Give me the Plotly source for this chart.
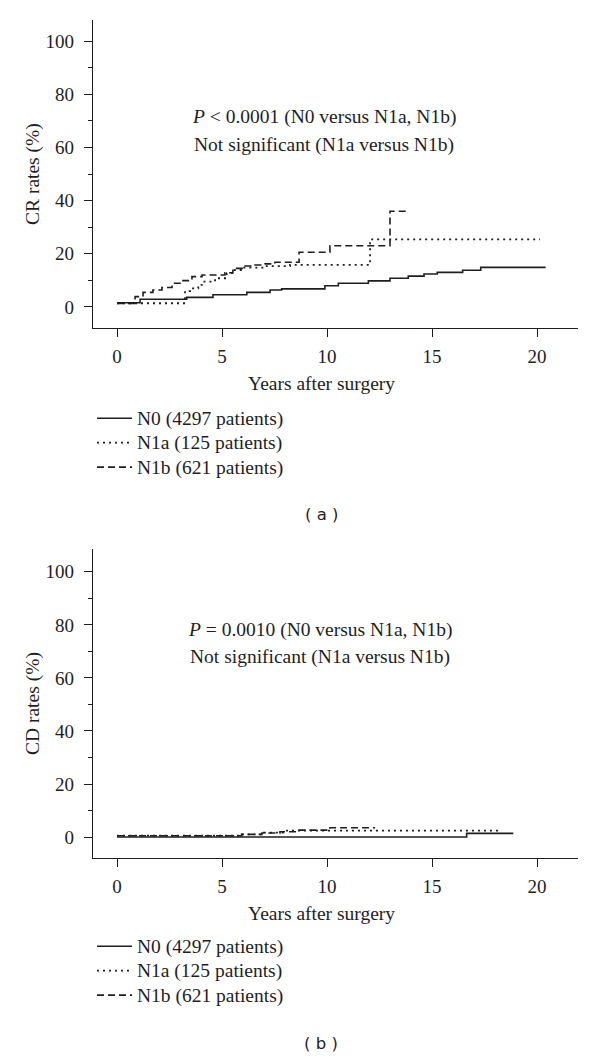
import plotly.graph_objects as go

# ---------------- data (years after surgery, rate %) ----------------
# Panel (a): CR rates
cr_n0_years = [0, 1.10, 3.32, 4.57, 6.18, 7.29, 7.84, 9.90, 10.54, 11.97, 13.00, 13.87, 14.62, 15.25, 16.46, 17.32, 20.41]
cr_n0_rates = [1.6, 2.9, 3.6, 4.6, 5.5, 6.4, 6.8, 8.0, 8.9, 9.8, 10.8, 11.6, 12.4, 13.0, 13.8, 14.9, 14.9]

cr_n1a_years = [0, 3.24, 3.48, 3.87, 4.11, 4.67, 5.22, 5.54, 6.01, 6.97, 8.24, 12.05, 20.14]
cr_n1a_rates = [1.4, 6.0, 7.0, 8.3, 9.5, 10.8, 12.7, 13.9, 14.8, 15.4, 15.8, 25.4, 25.4]

cr_n1b_years = [0, 0.86, 1.24, 1.71, 2.14, 2.62, 3.10, 3.57, 4.05, 5.14, 5.52, 6.10, 6.57, 7.05, 7.52, 8.67, 10.14, 13.00, 13.76]
cr_n1b_rates = [1.3, 3.9, 5.5, 6.4, 7.3, 8.9, 9.9, 11.4, 12.0, 12.9, 14.5, 15.4, 15.8, 16.2, 16.8, 20.6, 23.0, 36.0, 36.0]

# Panel (b): CD rates
cd_n0_years = [0, 16.65, 18.87]
cd_n0_rates = [0.0, 1.4, 1.4]

cd_n1a_years = [0, 5.94, 7.00, 7.90, 18.32]
cd_n1a_rates = [0.5, 1.0, 1.7, 2.4, 2.4]

cd_n1b_years = [0, 5.94, 6.90, 7.76, 8.57, 10.14, 12.29]
cd_n1b_rates = [0.5, 1.0, 1.5, 2.0, 2.6, 3.5, 3.5]

group_labels = ["N0 (4297 patients)", "N1a (125 patients)", "N1b (621 patients)"]
x_ticks = [0, 5, 10, 15, 20]
y_ticks = [0, 20, 40, 60, 80, 100]

# ---------------- styling ----------------
W, H = 600, 1060
INK = "#1e1e1e"
SERIF = "Liberation Serif"
dashes = ["solid", "2px,4px", "7px,4px"]
widths = [1.6, 1.8, 1.6]

fig = go.Figure()

top = [(cr_n0_years, cr_n0_rates), (cr_n1a_years, cr_n1a_rates), (cr_n1b_years, cr_n1b_rates)]
bot = [(cd_n0_years, cd_n0_rates), (cd_n1a_years, cd_n1a_rates), (cd_n1b_years, cd_n1b_rates)]


def legend_name(s):
    return '<span style="font-size:19.5px">' + s + '</span>'


for i, (xs, ys) in enumerate(top):
    fig.add_trace(go.Scatter(x=xs, y=ys, mode="lines", line_shape="hv",
                             line=dict(color=INK, width=widths[i], dash=dashes[i]),
                             name=legend_name(group_labels[i]), xaxis="x", yaxis="y", legend="legend"))
for i, (xs, ys) in enumerate(bot):
    fig.add_trace(go.Scatter(x=xs, y=ys, mode="lines", line_shape="hv",
                             line=dict(color=INK, width=widths[i], dash=dashes[i]),
                             name=legend_name(group_labels[i]), xaxis="x2", yaxis="y2", legend="legend2"))


def px_x(p):
    return p / W


def px_y(p):
    return 1 - p / H


x_dom = [px_x(93), px_x(578)]
x_range = [(93 - 117) / 21.0, (578 - 117) / 21.0]

tick_font = dict(family=SERIF, size=19, color=INK)


def xaxis_cfg(anchor):
    return dict(domain=x_dom, range=x_range, anchor=anchor, tickmode="array", tickvals=x_ticks,
                ticks="outside", ticklen=8, tickwidth=1.3, tickcolor=INK,
                showline=True, linecolor=INK, linewidth=1.3, showgrid=False, zeroline=False,
                tickfont=tick_font, ticklabelstandoff=3)


def yaxis_cfg(anchor, dom, rng):
    return dict(domain=dom, range=rng, anchor=anchor, tickmode="array", tickvals=y_ticks,
                ticks="outside", ticklen=8, tickwidth=1.3, tickcolor=INK,
                minor=dict(tickmode="array", tickvals=[10, 30, 50, 70, 90], ticks="outside",
                           ticklen=4, tickwidth=1.3, tickcolor=INK),
                showline=True, linecolor=INK, linewidth=1.3, showgrid=False, zeroline=False,
                tickfont=tick_font, ticklabelstandoff=6)


legend_common = dict(xanchor="left", yanchor="top", font=dict(family=SERIF, size=16.5, color=INK),
                     bgcolor="rgba(0,0,0,0)", borderwidth=0, tracegroupgap=0, itemwidth=35)

fig.update_layout(
    width=W, height=H,
    margin=dict(l=0, r=0, t=0, b=0),
    paper_bgcolor="white", plot_bgcolor="white",
    xaxis=xaxis_cfg("y"),
    yaxis=yaxis_cfg("x", [px_y(328), px_y(20)], [-7.9, 107.9]),
    xaxis2=xaxis_cfg("y2"),
    yaxis2=yaxis_cfg("x2", [px_y(858), px_y(549)], [-7.9, 108.6]),
    legend=dict(x=px_x(92), y=px_y(401), **legend_common),
    legend2=dict(x=px_x(92), y=px_y(929), **legend_common),
    showlegend=True,
)

ann_font = dict(family=SERIF, size=19.5, color=INK)
annotations = [
    dict(text="<i>P</i> < 0.0001 (N0 versus N1a, N1b)", x=px_x(324), y=px_y(117)),
    dict(text="Not significant (N1a versus N1b)", x=px_x(324), y=px_y(145)),
    dict(text="<i>P</i> = 0.0010 (N0 versus N1a, N1b)", x=px_x(320), y=px_y(630)),
    dict(text="Not significant (N1a versus N1b)", x=px_x(320), y=px_y(657)),
    dict(text="Years after surgery", x=px_x(321), y=px_y(383)),
    dict(text="Years after surgery", x=px_x(321), y=px_y(913)),
    dict(text="CR rates (%)", x=px_x(33), y=px_y(174), textangle=-90),
    dict(text="CD rates (%)", x=px_x(33), y=px_y(704), textangle=-90),
]
for a in annotations:
    fig.add_annotation(xref="paper", yref="paper", showarrow=False, xanchor="center", yanchor="middle",
                       font=ann_font, **a)

for lbl, yy in [("( a )", 514), ("( b )", 1043)]:
    fig.add_annotation(xref="paper", yref="paper", showarrow=False, x=px_x(321), y=px_y(yy),
                       xanchor="center", yanchor="middle", text=lbl,
                       font=dict(family="DejaVu Sans", size=16.5, color=INK))

fig.write_html("out.html", config={"displayModeBar": False},
               post_script="document.body.style.margin='0';")
